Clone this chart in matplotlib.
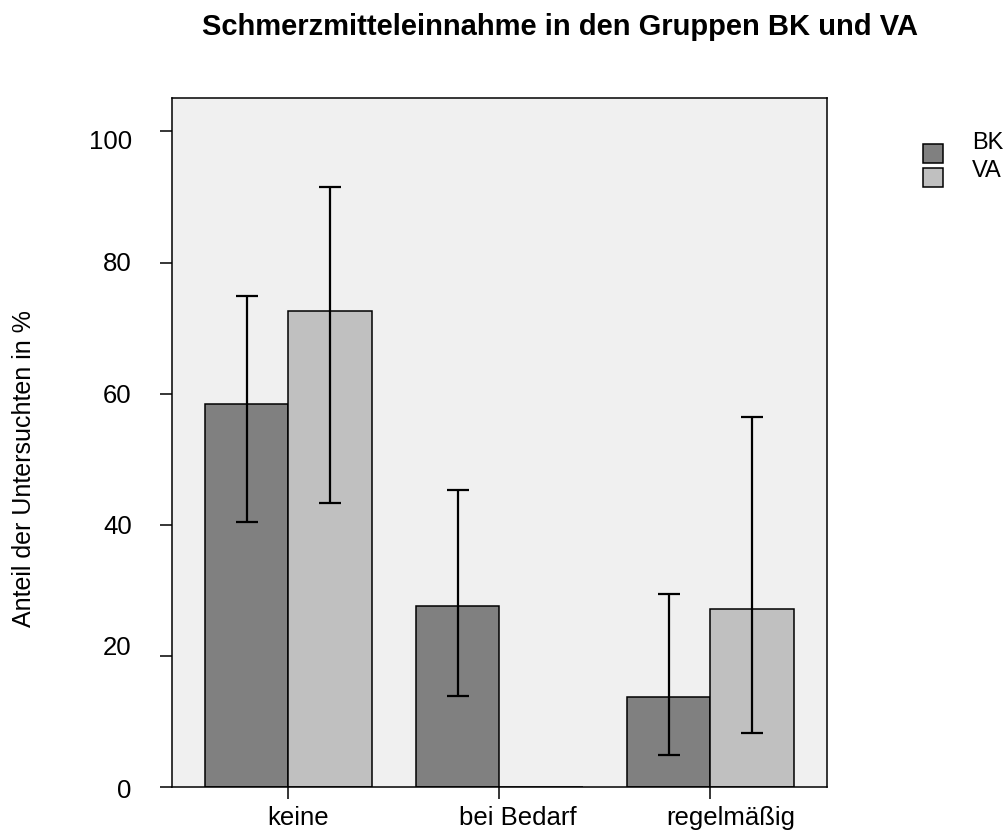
import matplotlib
matplotlib.use("Agg")
import matplotlib.pyplot as plt
import matplotlib.transforms as mtransforms
import numpy as np
from matplotlib.patches import Rectangle

categories = ["keine", "bei Bedarf", "regelmäßig"]
groups = ["BK", "VA"]

bk_values = [58.5, 27.6, 13.8]
va_values = [72.6, 0.0, 27.2]

bk_err_low = [40.5, 14.0, 4.9]
bk_err_high = [74.9, 45.3, 29.5]
va_err_low = [43.4, None, 8.3]
va_err_high = [91.5, None, 56.4]

y_ticks = [0, 20, 40, 60, 80, 100]

plt.rcParams["font.family"] = ["Liberation Sans", "DejaVu Sans"]

W, H = 1008, 832
fig = plt.figure(figsize=(W / 100, H / 100), dpi=100)
ax = fig.add_axes([0.1703, 0.0537, 0.650, 0.8285])
ax.set_facecolor("#f0f0f0")

x = np.arange(len(categories))
width = 0.395
colors = {"BK": "#808080", "VA": "#c0c0c0"}

ax.bar(x - width / 2, bk_values, width, color=colors["BK"], edgecolor="black",
       linewidth=1.1, zorder=2)
ax.bar(x + width / 2, va_values, width, color=colors["VA"], edgecolor="black",
       linewidth=1.1, zorder=2)


def draw_ci(xpos, vals, lows, highs):
    for xi, v, lo, hi in zip(xpos, vals, lows, highs):
        if lo is None:
            continue
        ax.errorbar(xi, v, yerr=[[v - lo], [hi - v]], fmt="none", ecolor="black",
                    elinewidth=1.6, capsize=7.9, capthick=1.6, zorder=3)


draw_ci(x - width / 2, bk_values, bk_err_low, bk_err_high)
draw_ci(x + width / 2, va_values, va_err_low, va_err_high)

ax.set_xlim(-0.553, 2.553)
ax.set_ylim(0, 105.1)
ax.set_xticks(x)
ax.set_xticklabels(categories)
ax.set_yticks(y_ticks)
ax.tick_params(axis="both", direction="out", length=8.8, width=1.1,
               labelsize=18.5, colors="black")
ax.tick_params(axis="x", pad=5)
ax.tick_params(axis="y", pad=20)
for s in ax.spines.values():
    s.set_linewidth(1.1)

# small per-label nudges (pixels) for the tick label placement
x_label_shift = [10, 19, 21]
y_label_shift = [1.5, -11, 0, 0, -1.5, 8]
for lab, dx in zip(ax.get_xticklabels(), x_label_shift):
    lab.set_transform(lab.get_transform() +
                      mtransforms.ScaledTranslation(dx / 100, 0, fig.dpi_scale_trans))
for lab, dy in zip(ax.get_yticklabels(), y_label_shift):
    lab.set_transform(lab.get_transform() +
                      mtransforms.ScaledTranslation(0, -dy / 100, fig.dpi_scale_trans))

fig.text(24.5 / W, 1 - 468.5 / H, "Anteil der Untersuchten in %", fontsize=18,
         rotation=90, ha="center", va="center")

fig.text(0.5556, 1 - 27 / H, "Schmerzmitteleinnahme in den Gruppen BK und VA",
         fontsize=21, fontweight="bold", ha="center", va="center")

# legend: swatches and labels placed in figure pixels
swatch_tops = [144, 168]
label_baselines = [149, 177]
for g, top, base in zip(groups, swatch_tops, label_baselines):
    fig.add_artist(Rectangle((923 / W, 1 - (top + 19) / H), 20 / W, 19 / H,
                             transform=fig.transFigure, facecolor=colors[g],
                             edgecolor="black", linewidth=1.1))
    fig.text(972 / W, 1 - base / H, g, fontsize=17, ha="left", va="baseline")

fig.savefig("out.png", dpi=100)
